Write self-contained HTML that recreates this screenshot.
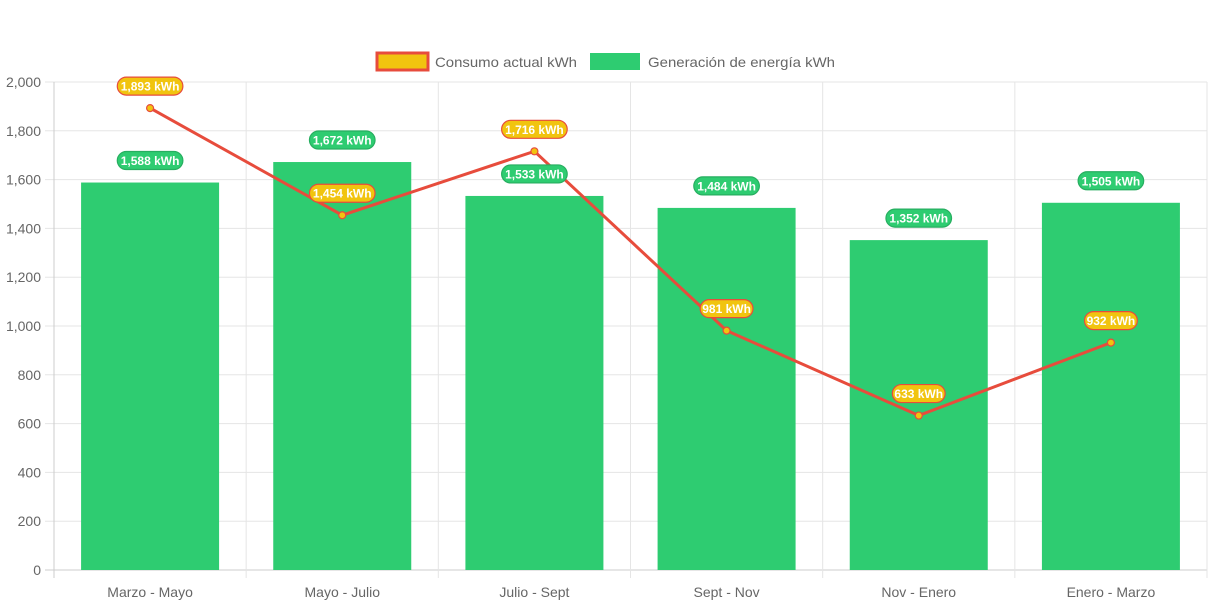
<!DOCTYPE html>
<html><head><meta charset="utf-8"><style>
html,body{margin:0;padding:0;background:#fff;}
svg{display:block;font-family:"Liberation Sans",Arial,sans-serif;}
</style></head><body>
<svg id="chart" width="1213" height="606">
<g>
<g>
<rect x="377" y="53" width="51" height="17" fill="#f1c40f" stroke="#e74c3c" stroke-width="3"/>
<text x="435" y="67" font-size="14" fill="#666" textLength="142" lengthAdjust="spacingAndGlyphs">Consumo actual kWh</text>
</g>
<g>
<rect x="590" y="53" width="50" height="17" fill="#2ecc71"/>
<text x="648" y="67" font-size="14" fill="#666" textLength="187" lengthAdjust="spacingAndGlyphs">Generación de energía kWh</text>
</g>
</g>
<g id="grid"></g>
<g id="bars"></g>
<g id="line"></g>
<g id="labels"></g>
</svg>
<script>
const categories=["Marzo - Mayo","Mayo - Julio","Julio - Sept","Sept - Nov","Nov - Enero","Enero - Marzo"];
const generacion=[1588,1672,1533,1484,1352,1505];
const consumo=[1893,1454,1716,981,633,932];
const yTicks=[0,200,400,600,800,1000,1200,1400,1600,1800,2000];
const NS="http://www.w3.org/2000/svg";
const L=54,R=1207,T=82,B=570,yMax=2000;
const bw=(R-L)/categories.length;
function y(v){return B-(v/yMax)*(B-T);}
function xc(i){return L+bw*(i+0.5);}
function mk(tag,attrs,parent,txt){const e=document.createElementNS(NS,tag);for(const k in attrs)e.setAttribute(k,attrs[k]);if(txt!==undefined)e.textContent=txt;parent.appendChild(e);return e;}
const grid=document.getElementById('grid');
yTicks.forEach(t=>{
 const l=mk('line',{x1:L-9,x2:R,y1:y(t),y2:y(t),stroke:t===0?'#ccc':'#e5e5e5','stroke-width':1},grid);
 
 
 const tx=mk('text',{x:L-13,y:y(t)+5,'text-anchor':'end','font-size':14,fill:'#666'},grid,t.toLocaleString('en-US'));
 
 
});
for(let i=0;i<=categories.length;i++){
 const x=L+bw*i;
 const l=mk('line',{x1:x,x2:x,y1:T,y2:B+8,stroke:i===0?'#ccc':'#e5e5e5','stroke-width':1},grid);
 
 
}
categories.forEach((c,i)=>{
 const tx=mk('text',{x:xc(i),y:597,'text-anchor':'middle','font-size':14,fill:'#666'},grid,c);
 
 
});
const bars=document.getElementById('bars');
const bwid=138;
generacion.forEach((v,i)=>{
 const r=mk('rect',{x:xc(i)-bwid/2,y:y(v),width:bwid,height:B-y(v),fill:'#2ecc71'},bars);
 
 
});
const line=document.getElementById('line');
const pl=mk('polyline',{points:consumo.map((v,i)=>xc(i)+','+y(v)).join(' '),fill:'none',stroke:'#e74c3c','stroke-width':3},line);


consumo.forEach((v,i)=>{
 const c=mk('circle',{cx:xc(i),cy:y(v),r:3.5,fill:'#f1c40f',stroke:'#e74c3c','stroke-width':1.2},line);
 
 
});
const labels=document.getElementById('labels');
function pill(v,i,fill,stroke,name){
 const g=mk('g',{},labels);
 
 
 const txt=v.toLocaleString('en-US')+' kWh';
 const w=txt.length*6.4+8, cy=y(v)-22;
 mk('rect',{x:xc(i)-w/2,y:cy-9,width:w,height:18,rx:9,fill:fill,stroke:stroke,'stroke-width':1.2},g);
 mk('text',{x:xc(i),y:cy+4.5,'text-anchor':'middle','font-size':12,'font-weight':'bold',fill:'#fff'},g,txt);
}
generacion.forEach((v,i)=>pill(v,i,'#2ecc71','#27ae60','label-generacion'));
consumo.forEach((v,i)=>pill(v,i,'#f1c40f','#e74c3c','label-consumo'));
</script>
</body></html>
